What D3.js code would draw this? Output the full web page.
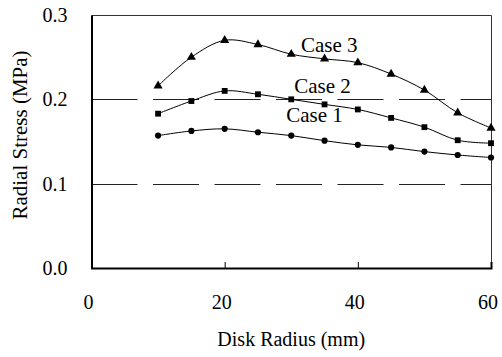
<!DOCTYPE html>
<meta charset="utf-8">
<script src="https://d3js.org/d3.v7.min.js"></script>
<style>
  body { margin: 0; background: #fff; }
  text { font-family: "Liberation Serif", "Times New Roman", serif; fill: #000; }
</style>
<svg></svg>
<script>

// DATA

var radius = [10, 15, 20, 25, 30, 35, 40, 45, 50, 55, 60];
var case1 = [0.157, 0.1625, 0.165, 0.161, 0.157, 0.151, 0.146, 0.143, 0.138, 0.134, 0.131];
var case2 = [0.183, 0.198, 0.210, 0.206, 0.200, 0.194, 0.188, 0.178, 0.167, 0.1515, 0.148];
var case3 = [0.216, 0.250, 0.270, 0.265, 0.2535, 0.248, 0.2435, 0.230, 0.211, 0.184, 0.166];
var caseNames = ["Case 1", "Case 2", "Case 3"];
var labelAt = [[33.5, 0.1735], [34.7, 0.208], [35.7, 0.256]];
var xTicks = [0, 20, 40, 60];
var yTicks = [0.0, 0.1, 0.2, 0.3];

// GLOBALS

var width = 502;
var height = 357;
var margin = { top: 15, left: 91, right: 11, bottom: 89 };

var svg = d3.select("svg")
    .attr("width", width)
    .attr("height", height);

var x = d3.scaleLinear()
    .domain([0, 60])
    .range([margin.left + 0.5, width - margin.right]);

var y = d3.scaleLinear()
    .domain([0, 0.3])
    .range([height - margin.bottom, margin.top]);

// GRID

svg.append("g")
  .selectAll("line")
  .data([0.1, 0.2])
  .enter().append("line")
    .attr("x1", x(0))
    .attr("x2", x(60))
    .attr("y1", function(d) { return Math.round(y(d)) + 0.5; })
    .attr("y2", function(d) { return Math.round(y(d)) + 0.5; })
    .attr("stroke", "#222")
    .attr("stroke-width", 1)
    .attr("stroke-dasharray", "46,15.5");

// frame top / right
svg.append("path")
    .attr("d", "M" + x(0) + "," + (y(0.3) + 0.5) + "H" + (x(60) + 0.5) + "V" + y(0))
    .attr("fill", "none")
    .attr("stroke", "#333")
    .attr("stroke-width", 1);

// AXES

var xAxis = svg.append("g")
    .attr("transform", "translate(0," + y(0) + ")")
    .call(d3.axisBottom(x).tickValues(xTicks).tickSize(-6).tickPadding(0).tickFormat(d3.format("d")));

var yAxis = svg.append("g")
    .attr("transform", "translate(" + x(0) + ",0)")
    .call(d3.axisLeft(y).tickValues(yTicks).tickSize(0).tickPadding(0).tickFormat(d3.format(".1f")));

[xAxis, yAxis].forEach(function(a) {
  a.attr("font-family", null);
  a.select(".domain").attr("stroke", "#000").attr("stroke-width", 2);
  a.selectAll(".tick line").attr("stroke", "#000").attr("stroke-width", 1);
  a.selectAll("text").style("font-size", "20px");
});

xAxis.selectAll(".tick line").filter(function(d) { return d === 0 || d === 60; }).remove();
xAxis.selectAll("text").attr("y", 41).attr("dy", null).attr("dx", -3.5);
yAxis.selectAll("text").attr("x", -24).attr("dy", "0.33em");

// LINES

var series = [case1, case2, case3];

var line = d3.line()
    .x(function(d, i) { return x(radius[i]); })
    .y(function(d) { return y(d); })
    .curve(d3.curveCatmullRom.alpha(0.5));

svg.append("g")
  .selectAll("path")
  .data(series)
  .enter().append("path")
    .attr("d", line)
    .attr("fill", "none")
    .attr("stroke", "#000")
    .attr("stroke-width", 1);

var shapes = [d3.symbolCircle, d3.symbolSquare, d3.symbolTriangle];
var sizes = [30, 34, 36];

series.forEach(function(s, k) {
  svg.append("g")
    .selectAll("path")
    .data(s)
    .enter().append("path")
      .attr("transform", function(d, i) { return "translate(" + x(radius[i]) + "," + y(d) + ")"; })
      .attr("d", d3.symbol().type(shapes[k]).size(sizes[k]))
      .attr("fill", "#000");
});

// LABELS

svg.append("g")
  .selectAll("text")
  .data(caseNames)
  .enter().append("text")
    .attr("x", function(d, i) { return x(labelAt[i][0]); })
    .attr("y", function(d, i) { return y(labelAt[i][1]); })
    .attr("text-anchor", "middle")
    .style("font-size", "21px")
    .text(function(d) { return d; });

svg.append("text")
    .attr("x", (x(0) + x(60)) / 2)
    .attr("y", 346)
    .attr("text-anchor", "middle")
    .style("font-size", "20px")
    .text("Disk Radius (mm)");

svg.append("text")
    .attr("transform", "translate(27,135) rotate(-90)")
    .attr("text-anchor", "middle")
    .style("font-size", "21px")
    .text("Radial Stress (MPa)");

</script>
